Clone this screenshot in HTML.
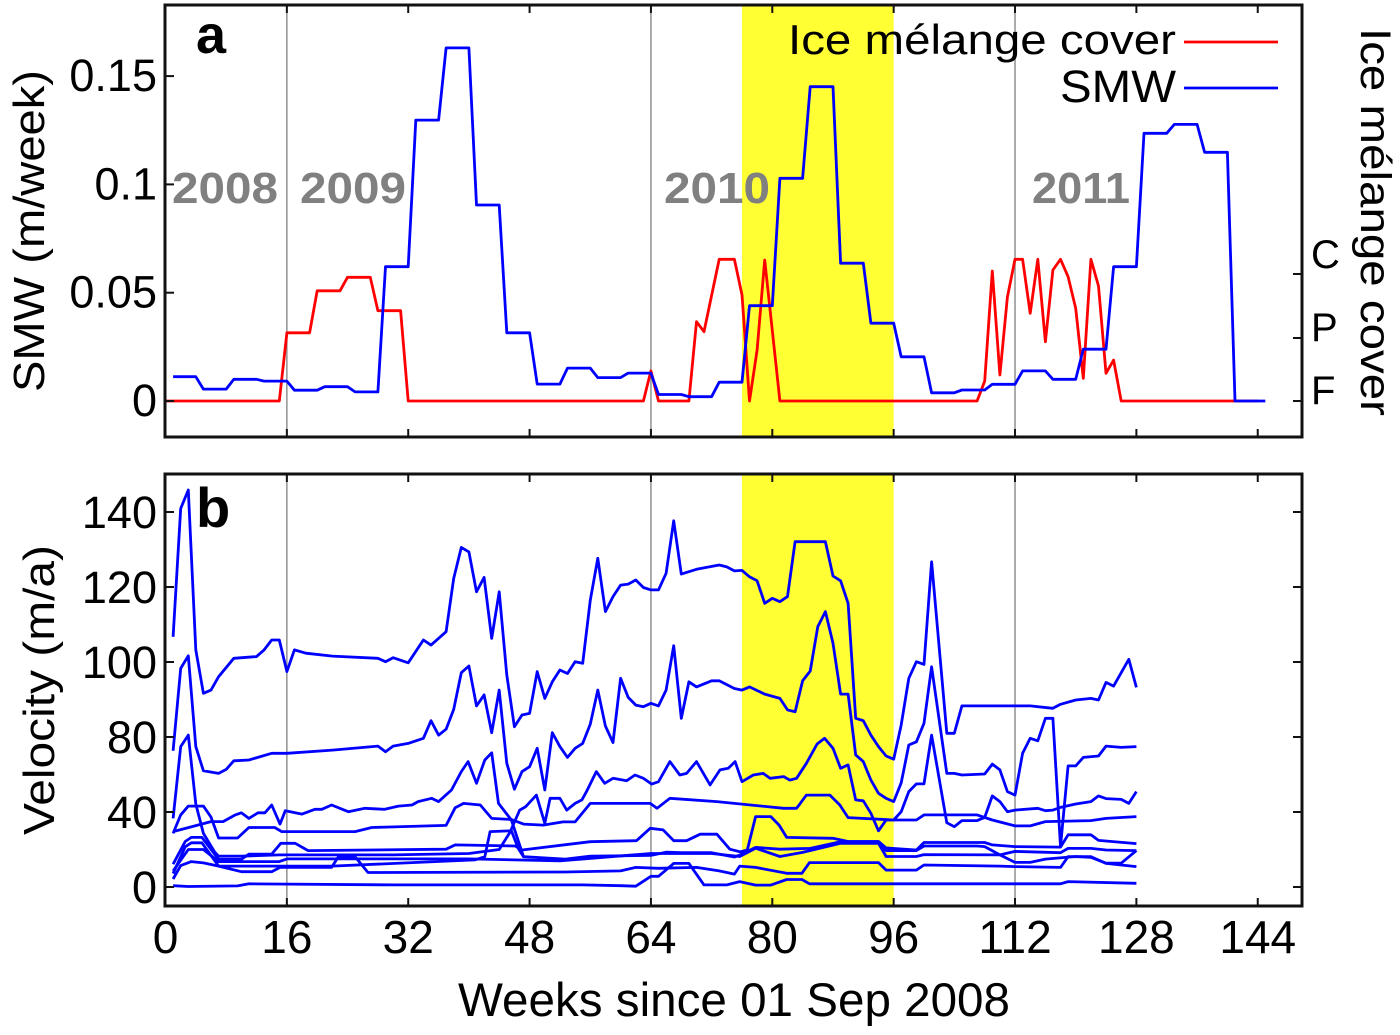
<!DOCTYPE html>
<html><head><meta charset="utf-8"><style>
html,body{margin:0;padding:0;background:#fff;}
svg text{font-family:"Liberation Sans",Arial,sans-serif;}
</style></head><body>
<svg id="chart" xmlns="http://www.w3.org/2000/svg" width="1400" height="1030" viewBox="0 0 1400 1030">
<g id="bg"></g>
<g id="marks"></g>
<g id="frame"></g>
<g id="labels"></g>
</svg>
<script>
// ---------- data ----------
const xTickVals = [0,16,32,48,64,80,96,112,128,144];
const yearLines = [16,64,112];
const highlightStart = 76, highlightEnd = 96;
const smwTicks = [0,0.05,0.1,0.15];
const smwTickLabels = ["0","0.05","0.1","0.15"];
const coverTickLabels = ["F","P","C"];
const velTicks = [0,28,56,84,112,140];
const velTickLabels = ["0","40","80","100","120","140"];
const yearNames = ["2008","2009","2010","2011"];

const smwWeeks = [1,4,5,8,9,12,13,16,17,20,21,24,25,28,29,32,33,36,37,40,41,44,45,48,49,52,53,56,57,60,61,64,65,68,69,72,73,76,77,80,81,84,85,88,89,92,93,96,97,100,101,104,105,108,109,112,113,116,117,120,121,124,125,128,129,132,133,136,137,140,141,145];
const smwValues = [0.0112,0.0112,0.0055,0.0055,0.010,0.010,0.0092,0.0092,0.005,0.005,0.0066,0.0066,0.0042,0.0042,0.062,0.062,0.1297,0.1297,0.163,0.163,0.0905,0.0905,0.0315,0.0315,0.0078,0.0078,0.0152,0.0152,0.0108,0.0108,0.0129,0.0129,0.003,0.003,0.002,0.002,0.0087,0.0087,0.044,0.044,0.1028,0.1028,0.1451,0.1451,0.0636,0.0636,0.0359,0.0359,0.0204,0.0204,0.0038,0.0038,0.0051,0.0051,0.0077,0.0077,0.0139,0.0139,0.010,0.010,0.0239,0.0239,0.062,0.062,0.1236,0.1236,0.1277,0.1277,0.1148,0.1148,0,0];

const coverWeeks = [0,15,16,19,20,23,24,27,28,31,32,63,64,65,69,70,71,73,75,76,77,78,79,81,107,108,109,110,111,112,113,114,115,116,117,118,119,120,121,122,123,124,125,126,144];
const coverValues = [0,0,0.0315,0.0315,0.0509,0.0509,0.0571,0.0571,0.0417,0.0417,0,0,0.0139,0,0,0.0366,0.032,0.0654,0.0654,0.049,0,0.0235,0.0651,0,0,0.0092,0.06,0.012,0.048,0.0654,0.0654,0.0405,0.0654,0.0274,0.0605,0.0654,0.0574,0.0428,0.0105,0.0654,0.0531,0.0128,0.0189,0,0];

const v1Weeks = [1,2,3,4,5,6,7,9,12,13,14,15,16,17,18.5,22,28,29,30,32,34,35,37,38,39,40,41,42,43,44,45,46,47,48,49,50,51,52,53,54,55,56,57,58,59,60,61,62,63,64,65,66,67,68,70,73,74,75,76,77,78,79,80,81,82,83,87,88,89,90,91,92,93,94,95,96,97,98,99,100,101,103,104,105,114,117,118,120,122,123,124,125,127,128];
const v1Values = [93.4,141.3,148.2,88.5,72.3,73.5,78.5,85.4,86.0,88.5,92.2,92.2,80.4,88.5,87.3,86.2,85.4,84.1,85.6,83.7,92.2,90.3,95.3,115.2,126.8,125.1,110.2,115.6,92.8,110.2,79.1,59.8,64.2,64.8,80.4,70.4,76.6,81.0,79.7,84.1,83.5,107.1,122.7,102.8,108.4,112.7,113.1,114.6,111.8,110.9,110.9,117.1,136.7,116.8,118.6,120.2,119.5,118.0,118.2,115.8,114.3,105.9,107.8,106.5,108.4,128.9,128.9,116.1,114.3,105.9,63.0,62.1,56.7,52.4,48.9,47.7,60.5,77.9,84.1,83.1,121.4,57.4,57.4,67.6,67.6,66.7,68.2,69.8,70.4,69.8,76.4,75.0,85.0,74.5];

const v2Weeks = [1,2,3,4,5,7,8,9,11,14,16,22,28,29,30,32,34,35,36,37,38,39,40,41,42,43,44,45,46,47,48,49,50,51,52,53,54,55,56,57,58,59,60,61,62,63,64,65,66,67,68,69,70,72,73,75,76,77,79,81,82,83,84,85,86,87,88,89,90,91,92,93,94,95,96,97,98,99,100,101,103,104,105,108,109,110,111,112,113,114,115,116,117,118,119,120,121,123,124,126,128];
const v2Values = [50.9,81.6,86.3,52.4,43.4,42.4,43.9,47.1,47.4,49.9,49.9,51.1,52.6,50.5,52.6,53.6,55.5,62.1,56.7,58.9,66.3,80.0,82.5,67.6,71.7,57.6,73.5,46.2,36.5,43.1,44.9,51.8,36.2,57.6,52.4,48.4,51.8,53.6,60.8,73.5,60.1,53.9,77.9,70.8,67.9,67.3,68.6,67.6,73.5,90.1,63.0,76.6,74.7,77.0,77.0,74.1,73.5,74.7,72.0,70.4,66.1,65.4,77.0,80.6,97.2,102.8,91.0,72.0,72.0,49.3,46.8,39.9,35.0,33.1,31.9,38.9,53.0,54.2,61.1,82.2,42.4,42.4,41.8,42.2,45.9,43.7,35.6,34.3,49.9,55.5,54.6,63.0,63.0,15.1,45.2,45.2,48.4,48.9,52.6,52.1,52.4];

const v3Weeks = [1,2,3,4,5,6.5,7,10,15,20,30,40,44,45.4,46.7,47.5,48.9,50,50.7,52,52.9,54,54.9,55.5,56.8,57.9,59,60.8,61.9,63,64.1,65,66.5,67.8,68.7,70,71.8,73.1,74.2,75.1,76,77.5,78.8,79.7,81.5,82.3,83.2,84.5,85.9,86.9,88,89,90,91,92,93,94,95,96,97,98,99,100,101,103,104,105,107,108,109,110,111,112,115,116,117,118,120,122,123,124,126,127,128];
const v3Values = [25.6,52.4,56.7,31,20,13,11.5,11.5,12,12,12,12.5,14,20.4,28.7,30,34.3,23.8,33.1,33.1,28.7,31.2,32.5,35.6,43.1,38.7,40.6,39.7,41.8,40.6,38.4,39.3,46.8,41.8,42.4,46.8,38.1,43.7,44.3,46.8,39.3,41.8,42.4,40.6,41.2,39.9,40.6,46.2,53.4,55.5,51.8,44.3,45.6,32.5,32.2,27.5,21.0,25,25,28.1,35.6,38.5,38.5,56.7,24.0,22.5,24.8,24.8,26.0,34.0,31.9,28.1,28.7,29.4,28.5,28.7,29.7,31.0,31.9,34.0,33.0,32.7,31.2,35.6];

const v4Weeks = [1,6,7.6,9.2,10,11,12.2,13.1,14,15.1,15.8,18,19.7,20.6,21.9,24.1,26.3,28.9,30.7,32.5,33.3,35.1,36,37.7,39,39.9,41,42.1,43,43.9,45.6,47.2];
const v4Values = [20.7,24.4,24.4,26.9,27.7,25.6,27.7,27.7,30.6,23.5,28.5,27.2,29.0,29.0,30.6,28.1,29.4,29.0,30.2,30.6,31.9,33.1,31.9,36.2,43.1,46.8,38.7,47.4,50.1,31.2,25,11.3];

const v5Weeks = [1,2,3,5,6,7,9.5,11,14.4,15.3,25,27.2,37,38.2,39.3,41.5,43,45.6,47.2,49.8,52.4,54,56,63.9,64.8,66.5,72.7,81.5,83.2,84.5,87.6,88.9,90,96,99,100,107,109,112,114,116,122,124,128];
const v5Values = [20.0,26.9,30.2,30.2,26.1,18.3,18.3,22.2,22.2,20.7,20.7,22.2,23,29.6,31.2,30.6,25.6,25.2,23.5,23.1,24.3,24.3,31.2,31.2,29.4,33.1,31.9,29.4,29.4,34.3,34.3,30.6,25.9,25.0,25.0,26.9,26.9,25.0,22.8,22.8,24.4,24.8,25.6,26.3];

const v6Weeks = [1,2.6,3.4,4.8,7,10,11,14,15.2,17.1,18.8,37,38.2,46.1,47,56,62.1,63.9,65.6,67,68.7,70.5,72.7,74.4,75.8,76.7,77.8,79.8,80.9,81.9,88,90,94,95,99,100,108,109,112,118,119,122,123,128];
const v6Values = [8.5,17,18.5,18.5,10.3,10.3,12.3,12.3,16.3,16.3,13.6,14.1,15.7,15.3,13.8,16.9,17.3,21.9,21.3,17.3,17.3,19.7,19.7,14.1,13.1,13.8,26.3,26.3,23.1,18.5,18.2,17.0,17.0,14.6,13.8,16.6,16.6,15.7,15.1,14.9,19.5,19.5,17.4,16.2];

const v7Weeks = [1,2.6,3.4,4.8,7,21.9,40.8,42.1,42.8,45.6,46.5,47.2,52.7,56,64,66,68,72,75,75.7,77.8,81,85,89,94,95,99,100,107,108,110,112,118,119,122,124,128];
const v7Values = [5,15,16.5,16.5,7.8,7.8,10.1,11.3,20.7,21.0,14.4,11.3,10.4,11.5,11.8,13.0,12.8,12.8,11.2,11.9,14.8,14.1,14.4,16.9,16.9,13.6,13.6,15.3,15.3,15.1,12.0,13.3,12.8,14.4,14.4,13.8,13.6];

const v8Weeks = [1,2,3.4,5,7,10,14,15.1,21.9,22.8,25,26.7,52.7,60,62,65,70,73,75,75.7,77.8,81.9,83.9,84.9,94,95,99,100,110,112,118,119,122,124,128];
const v8Values = [3,8,9.5,9,7.8,5.7,5.7,7.3,7.3,11.3,11.3,5.4,5.6,6,7.3,7.0,7.3,6.0,4.8,7.8,7.3,5.1,5.1,9.1,9.1,6.3,6.3,8.2,7.8,7.6,7.3,11.3,11.3,8.8,7.6];

const v9Weeks = [1,3,5,7,15,16,22,40,52,64,72,75.7,77.8,81,84,89,94,95,99,100,110,112,114,116,120,122,124,126,128];
const v9Values = [6,14,14,9.5,9.5,10.5,10.5,10.5,9.8,12.5,12.5,11.4,14.5,11.4,12.9,16.3,16.3,11.4,11.4,12.1,12.0,9.2,9.2,10.4,11.4,11.1,8.9,8.9,13.6];

const v10Weeks = [1,3,9.5,11,30,55,60,62,64,65,67,69,71,74,75.7,77.8,79.8,81.9,83.9,84.9,118,119,128];
const v10Values = [0.5,0.2,0.4,1.2,0.8,0.8,0.5,0.3,4.0,4.0,8.8,8.8,0.8,0.8,2.0,0.7,0.7,2.8,2.8,1.2,1.2,2.0,1.4];

// ---------- scales ----------
const NS = "http://www.w3.org/2000/svg";
function xS(w){ return 165.5 + w*7.585; }
function yA(v){ return 401 - v*2166; }
function yB(v){ return 887 - v*(375/140); }
function mk(tag, attrs, parent){
  const e = document.createElementNS(NS, tag);
  for (const k in attrs) e.setAttribute(k, attrs[k]);
  parent.appendChild(e); return e;
}
const bg = document.getElementById('bg');
const marks = document.getElementById('marks');
const frame = document.getElementById('frame');
const labels = document.getElementById('labels');
const panels = [{top:5,bottom:437,name:'a'},{top:474,bottom:906,name:'b'}];

panels.forEach(p=>{
  const r = mk('rect',{x:xS(highlightStart),y:p.top,width:xS(highlightEnd)-xS(highlightStart),height:p.bottom-p.top,fill:'#ffff33'},bg);
  
  
  yearLines.forEach(w=>{
    const l = mk('line',{x1:xS(w),x2:xS(w),y1:p.top,y2:p.bottom,stroke:'#909090','stroke-width':1.5},bg);
    
    
  });
});

function series(ws, vs, ys, color, width, name){
  const pts = ws.map((w,i)=>xS(w).toFixed(1)+','+ys(vs[i]).toFixed(1)).join(' ');
  const pl = mk('polyline',{points:pts,fill:'none',stroke:color,'stroke-width':width,'stroke-linejoin':'round'},marks);
  
  
}
series(coverWeeks, coverValues, yA, '#ff0000', 2.8, 'ice-melange-cover-line');
series(smwWeeks, smwValues, yA, '#0000ff', 2.8, 'smw-line');
const vW = [v1Weeks,v2Weeks,v3Weeks,v4Weeks,v5Weeks,v6Weeks,v7Weeks,v8Weeks,v9Weeks,v10Weeks];
const vV = [v1Values,v2Values,v3Values,v4Values,v5Values,v6Values,v7Values,v8Values,v9Values,v10Values];
vW.forEach((w,i)=>series(w, vV[i], yB, '#0000ff', 2.8, 'velocity-line-'+(i+1)));

panels.forEach(p=>{
  const r = mk('rect',{x:165,y:p.top,width:1137,height:p.bottom-p.top,fill:'none',stroke:'#111','stroke-width':3},frame);
  
  
  xTickVals.forEach(w=>{
    mk('line',{x1:xS(w),x2:xS(w),y1:p.bottom,y2:p.bottom-8,stroke:'#111','stroke-width':2},frame);
    mk('line',{x1:xS(w),x2:xS(w),y1:p.top,y2:p.top+8,stroke:'#111','stroke-width':2},frame);
  });
});
smwTicks.forEach((v,i)=>{
  mk('line',{x1:165,x2:174,y1:yA(v),y2:yA(v),stroke:'#111','stroke-width':2},frame);
  const t = mk('text',{x:157,y:yA(v)+15,'font-size':45,'text-anchor':'end',fill:'#000'},labels);
  t.textContent = smwTickLabels[i];
  
  
});
const coverY = [401,338,274];
const coverLabelY = [404,341,268];
coverTickLabels.forEach((s,i)=>{
  mk('line',{x1:1293,x2:1302,y1:coverY[i],y2:coverY[i],stroke:'#111','stroke-width':2},frame);
  const t = mk('text',{x:1311,y:coverLabelY[i],'font-size':40,fill:'#000'},labels);
  t.textContent = s;
  
  
});
velTicks.forEach((v,i)=>{
  mk('line',{x1:165,x2:174,y1:yB(v),y2:yB(v),stroke:'#111','stroke-width':2},frame);
  mk('line',{x1:1293,x2:1302,y1:yB(v),y2:yB(v),stroke:'#111','stroke-width':2},frame);
  const t = mk('text',{x:157,y:yB(v)+16,'font-size':45,'text-anchor':'end',fill:'#000'},labels);
  t.textContent = velTickLabels[i];
  
  
});
xTickVals.forEach(w=>{
  const t = mk('text',{x:xS(w),y:953,'font-size':46,'text-anchor':'middle',fill:'#000'},labels);
  t.textContent = String(w);
  
  
});
const yearX = [172,300,664,1032];
yearNames.forEach((s,i)=>{
  const t = mk('text',{x:yearX[i],y:203,'font-size':44,'font-weight':'bold',fill:'#808080',textLength:i==3?98:106,lengthAdjust:'spacingAndGlyphs'},labels);
  t.textContent = s;
  
  
});
</script>
<svg style="position:absolute;left:0;top:0" width="1400" height="1030" xmlns="http://www.w3.org/2000/svg">
<text x="196" y="53" font-size="54" font-weight="bold" font-family="Liberation Sans, sans-serif">a</text>
<text x="196" y="527" font-size="56" font-weight="bold" font-family="Liberation Sans, sans-serif">b</text>
<text x="1176" y="54" font-size="42" text-anchor="end" textLength="388" lengthAdjust="spacingAndGlyphs" font-family="Liberation Sans, sans-serif">Ice mélange cover</text>
<line x1="1184" x2="1278" y1="42" y2="42" stroke="#ff0000" stroke-width="2.8"/>
<text x="1176" y="102" font-size="45" text-anchor="end" textLength="116" lengthAdjust="spacingAndGlyphs" font-family="Liberation Sans, sans-serif">SMW</text>
<line x1="1184" x2="1278" y1="88" y2="88" stroke="#0000ff" stroke-width="2.8"/>
<text transform="translate(44,231) rotate(-90)" font-size="44" text-anchor="middle" textLength="322" lengthAdjust="spacingAndGlyphs" font-family="Liberation Sans, sans-serif">SMW (m/week)</text>
<text transform="translate(54,690) rotate(-90)" font-size="44" text-anchor="middle" textLength="290" lengthAdjust="spacingAndGlyphs" font-family="Liberation Sans, sans-serif">Velocity (m/a)</text>
<text transform="translate(1361,222) rotate(90)" font-size="43" text-anchor="middle" textLength="388" lengthAdjust="spacingAndGlyphs" font-family="Liberation Sans, sans-serif">Ice mélange cover</text>
<text x="734" y="1016" font-size="47" text-anchor="middle" textLength="552" lengthAdjust="spacingAndGlyphs" font-family="Liberation Sans, sans-serif">Weeks since 01 Sep 2008</text>
</svg>
</body></html>
